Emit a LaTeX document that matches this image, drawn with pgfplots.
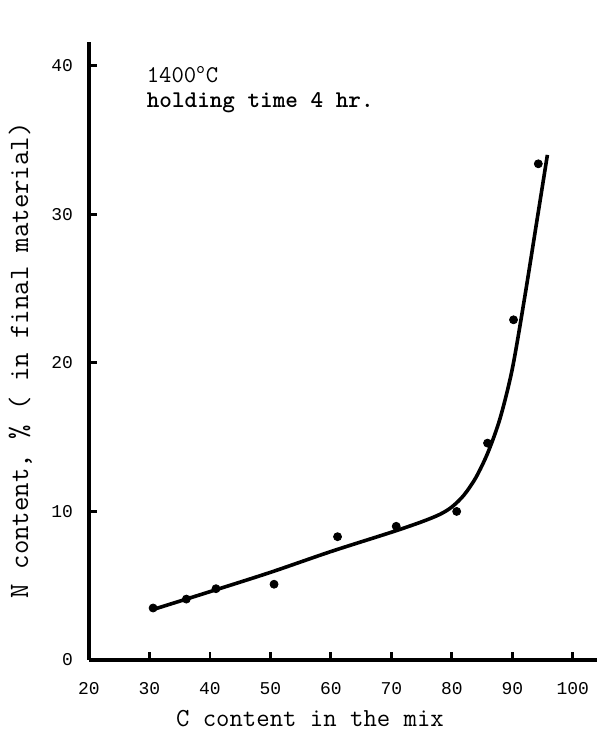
\documentclass[border=0pt]{standalone}
\usepackage{fontspec}
\newfontfamily\tickfont{Liberation Mono}
\usepackage{pgfplots}
\pgfplotsset{compat=1.18}

\begin{document}
\begin{tikzpicture}
\begin{axis}[
  scale only axis, width=254pt, height=309pt,
  xmin=20, xmax=104, ymin=0, ymax=41.6,
  axis lines=left,
  axis line style={-, line width=1.6pt},
  xtick={20,30,...,100}, ytick={0,10,...,40},
  tick align=inside, major tick length=4pt,
  tick style={line width=1.4pt, black},
  /pgf/number format/assume math mode=true,
  tick label style={font=\tickfont\fontsize{9}{10}\selectfont},
  xticklabel style={yshift=-7.5pt},
  yticklabel style={xshift=-4.5pt},
  xlabel={C content in the mix},
  ylabel={N content, \% ( in final material)},
  xlabel style={at={(axis description cs:0.435,-0.094)}, anchor=center, font=\ttfamily\fontsize{13}{15}\selectfont},
  ylabel style={at={(axis description cs:-0.135,0.485)}, anchor=center, font=\ttfamily\fontsize{14}{16}\selectfont},
  clip=false,
]
% measured points
\addplot[only marks, mark=*, mark size=2pt, black] coordinates {
  (30.6,3.5) (36.1,4.1) (41.0,4.8) (50.6,5.1) (61.1,8.3) (70.8,9.0)
  (80.8,10.0) (85.9,14.6) (90.2,22.9) (94.3,33.4)
};
% fitted curve
\addplot[smooth, line width=1.8pt, black] coordinates {
  (30.6,3.4) (40,4.6) (50,5.9) (60,7.3) (70,8.6) (75,9.3) (78,9.8)
  (80,10.3) (82,11.1) (84,12.3) (86,14.0) (88,16.3) (90,19.6)
  (92,24.3) (94,29.4) (95.8,34.0)
};
\node[anchor=west, font=\ttfamily\fontsize{12}{14}\selectfont] at (axis cs:28.4,39.4) {1400\textsuperscript{o}C};
\node[anchor=west, font=\ttfamily\bfseries\fontsize{12}{14}\selectfont] at (axis cs:28.4,37.5) {holding time 4 hr.};
\end{axis}
\pgfresetboundingbox
\useasboundingbox (-44.5pt,-39.5pt) rectangle (256.5pt,330pt);
\end{tikzpicture}
\end{document}
